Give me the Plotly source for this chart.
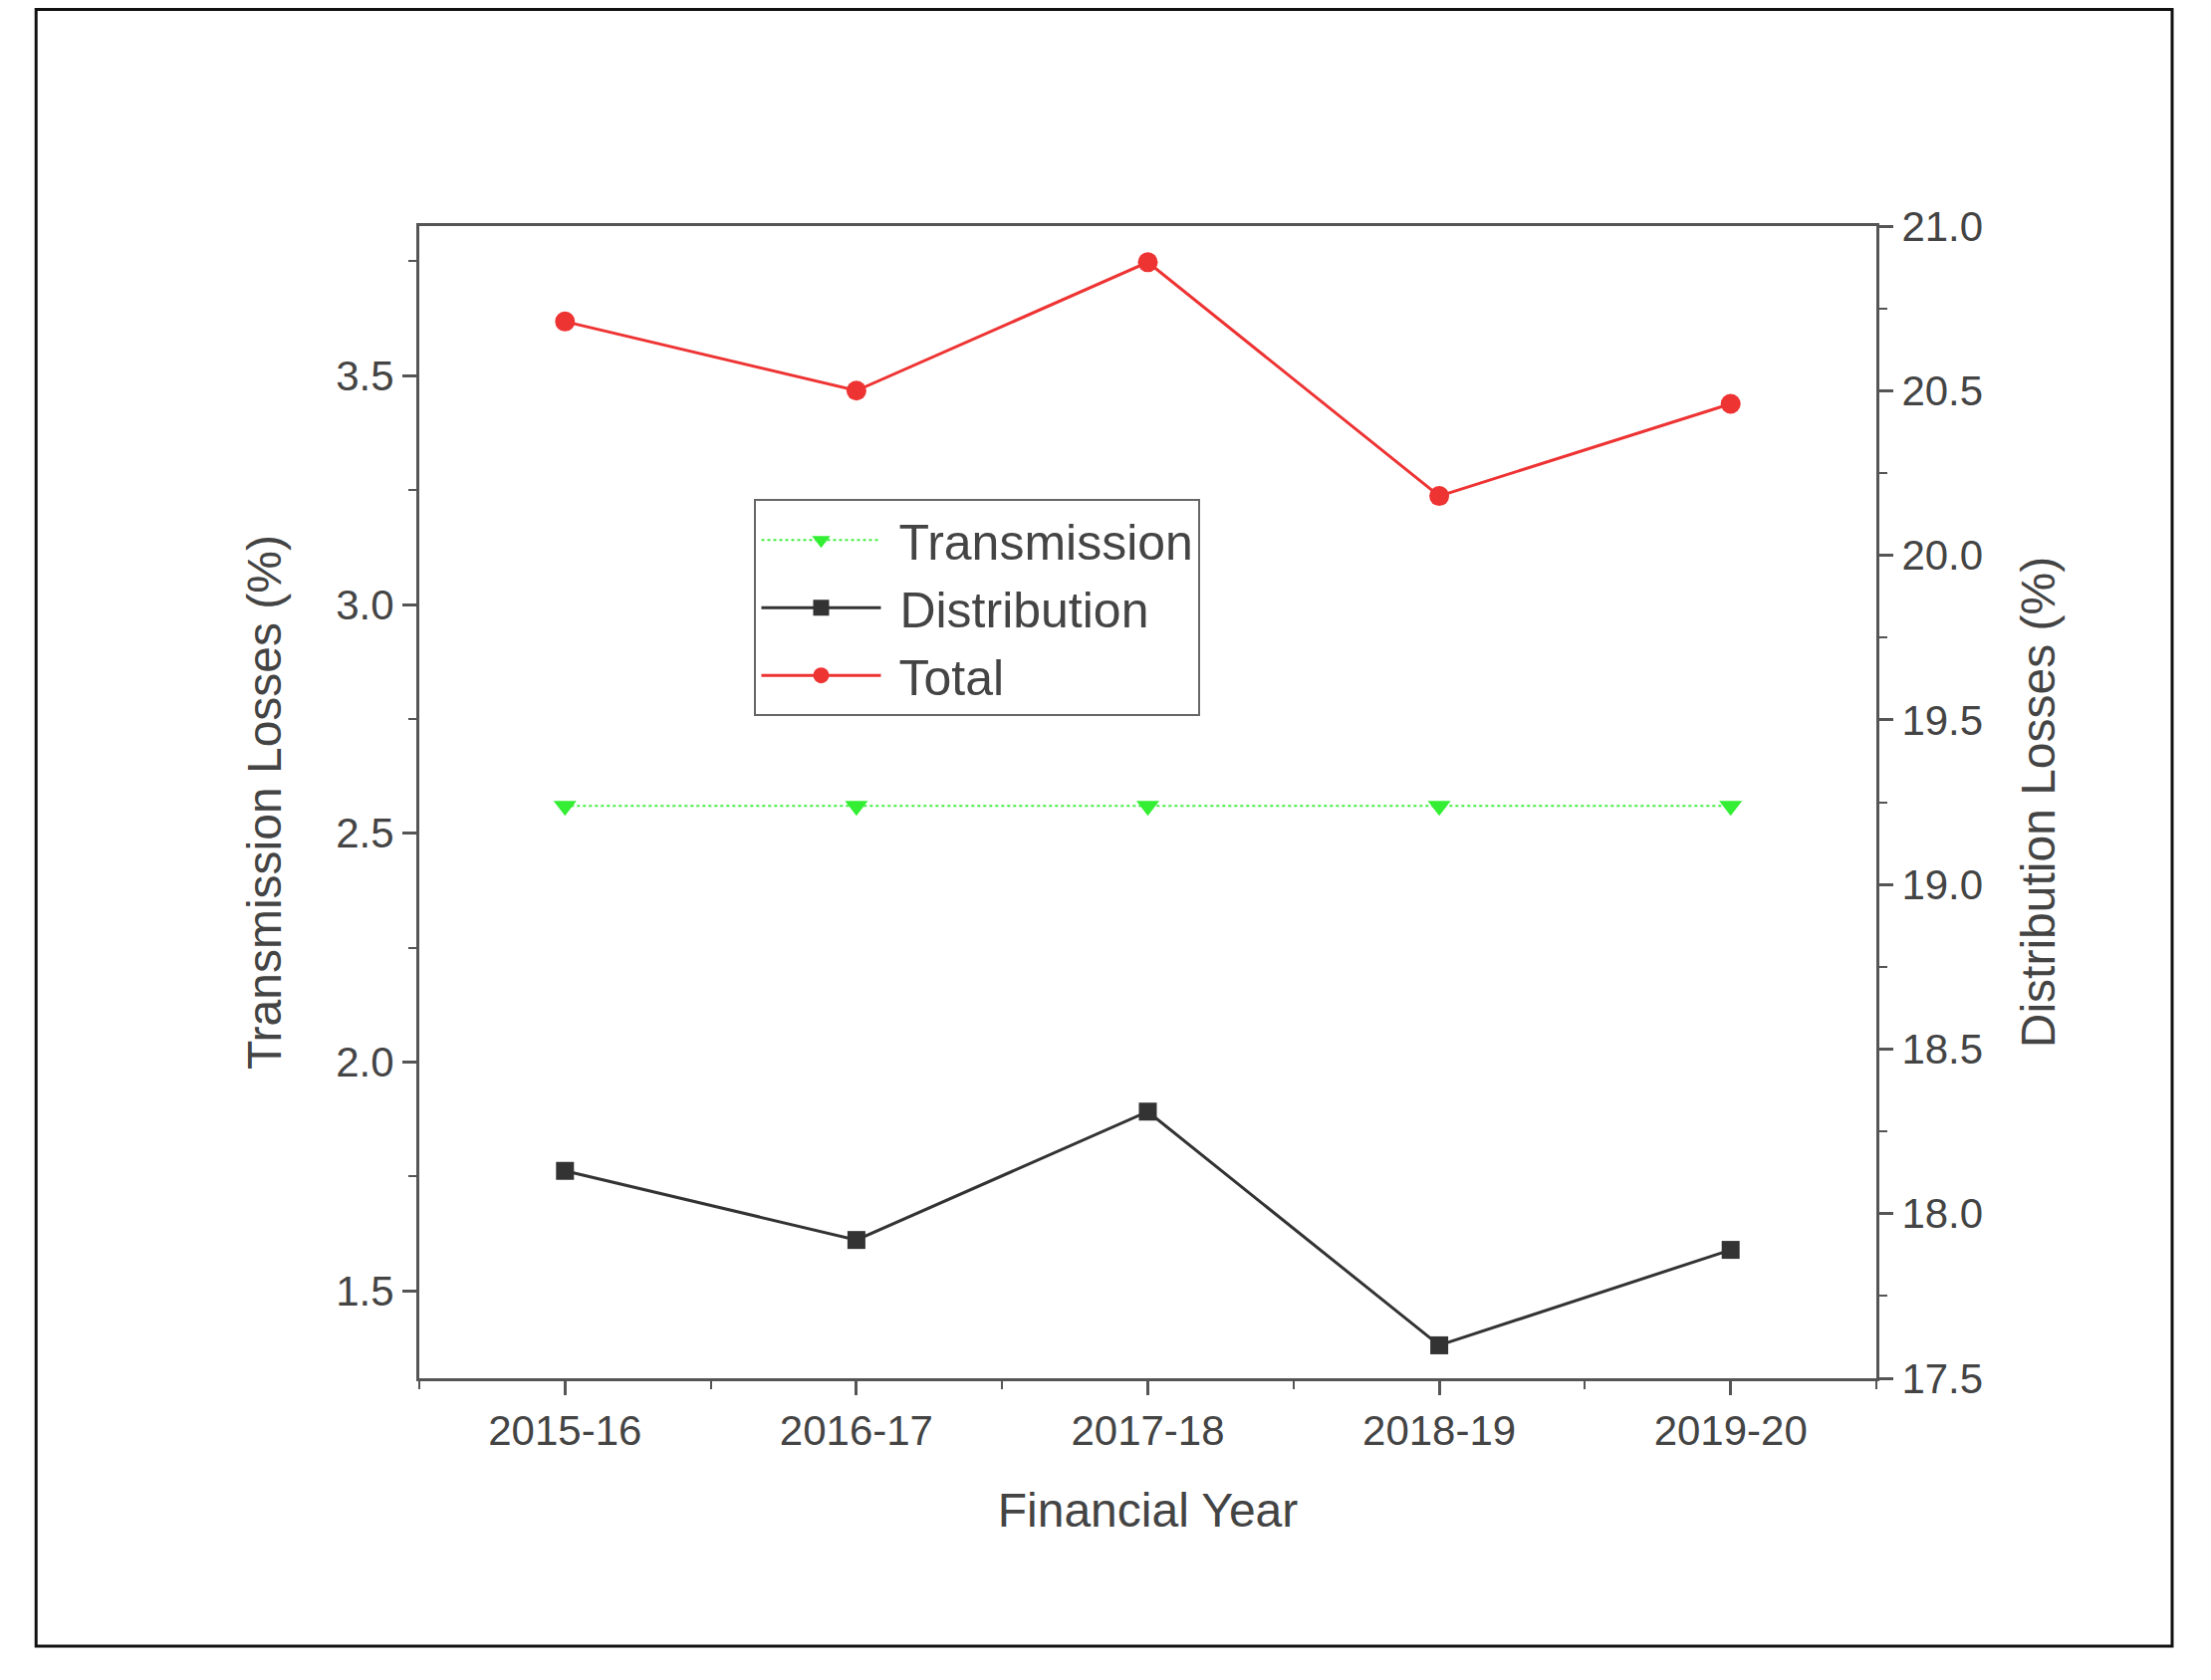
import plotly.graph_objects as go

years = ["2015-16", "2016-17", "2017-18", "2018-19", "2019-20"]
transmission = [2.56, 2.56, 2.56, 2.56, 2.56]
distribution = [18.13, 17.92, 18.31, 17.60, 17.89]
total = [20.71, 20.50, 20.89, 20.18, 20.46]

fig = go.Figure()
fig.add_trace(go.Scatter(x=[0,1,2,3,4], y=transmission, name=" Transmission", mode="lines+markers",
    line=dict(color="#44ee44", width=2, dash="dot"),
    marker=dict(symbol="triangle-down", size=20, color="#33ee33")))
fig.add_trace(go.Scatter(x=[0,1,2,3,4], y=distribution, name=" Distribution", mode="lines+markers", yaxis="y2",
    line=dict(color="#333333", width=3),
    marker=dict(symbol="square", size=18, color="#333333")))
fig.add_trace(go.Scatter(x=[0,1,2,3,4], y=total, name=" Total", mode="lines+markers", yaxis="y2",
    line=dict(color="#ee3333", width=3),
    marker=dict(symbol="circle", size=20, color="#ee3333")))

axcol = "#555555"
tf = dict(family="Liberation Sans, Arial", size=42, color="#444444")
fig.update_layout(
    width=2220, height=1687, paper_bgcolor="white", plot_bgcolor="white",
    margin=dict(l=413, r=344, t=219, b=311),
    font=dict(family="Liberation Sans, Arial", color="#444444"),
    xaxis=dict(range=[-0.5, 4.5], tickvals=[0,1,2,3,4], ticktext=years, tickfont=tf,
        title=dict(text="Financial Year", font=dict(size=48, color="#444444"), standoff=40),
        showline=True, linecolor=axcol, linewidth=3, mirror=True, ticks="outside",
        ticklen=14, tickwidth=3, tickcolor=axcol, showgrid=False, zeroline=False,
        minor=dict(ticks="outside", ticklen=8, tickwidth=2, tickcolor=axcol, dtick=0.5, tick0=0.5)),
    yaxis=dict(range=[1.309, 3.827], dtick=0.5, tick0=1.5, tickformat=".1f", tickfont=tf,
        title=dict(text="Transmission Losses (%)", font=dict(size=48, color="#444444"), standoff=40),
        showline=True, linecolor=axcol, linewidth=3, ticks="outside",
        ticklen=14, tickwidth=3, tickcolor=axcol, showgrid=False, zeroline=False,
        minor=dict(ticks="outside", ticklen=8, tickwidth=2, tickcolor=axcol, dtick=0.25)),
    yaxis2=dict(range=[17.5, 21.0], dtick=0.5, tickformat=".1f", tickfont=tf, overlaying="y", side="right",
        title=dict(text="Distribution Losses (%)", font=dict(size=48, color="#444444"), standoff=40),
        showline=True, linecolor=axcol, linewidth=3, ticks="outside",
        ticklen=14, tickwidth=3, tickcolor=axcol, showgrid=False, zeroline=False,
        minor=dict(ticks="outside", ticklen=8, tickwidth=2, tickcolor=axcol, dtick=0.25)),
    legend=dict(x=0.23, y=0.763, xanchor="left", yanchor="top", bgcolor="white",
        bordercolor="#666666", borderwidth=2, font=dict(size=50, color="#444444"),
        itemwidth=120, tracegroupgap=0),
    shapes=[dict(type="rect", xref="paper", yref="paper", x0=-0.263, x1=1.203, y0=-0.2325, y1=1.188,
        line=dict(color="#111111", width=3))],
)
fig.write_html("out.html")
